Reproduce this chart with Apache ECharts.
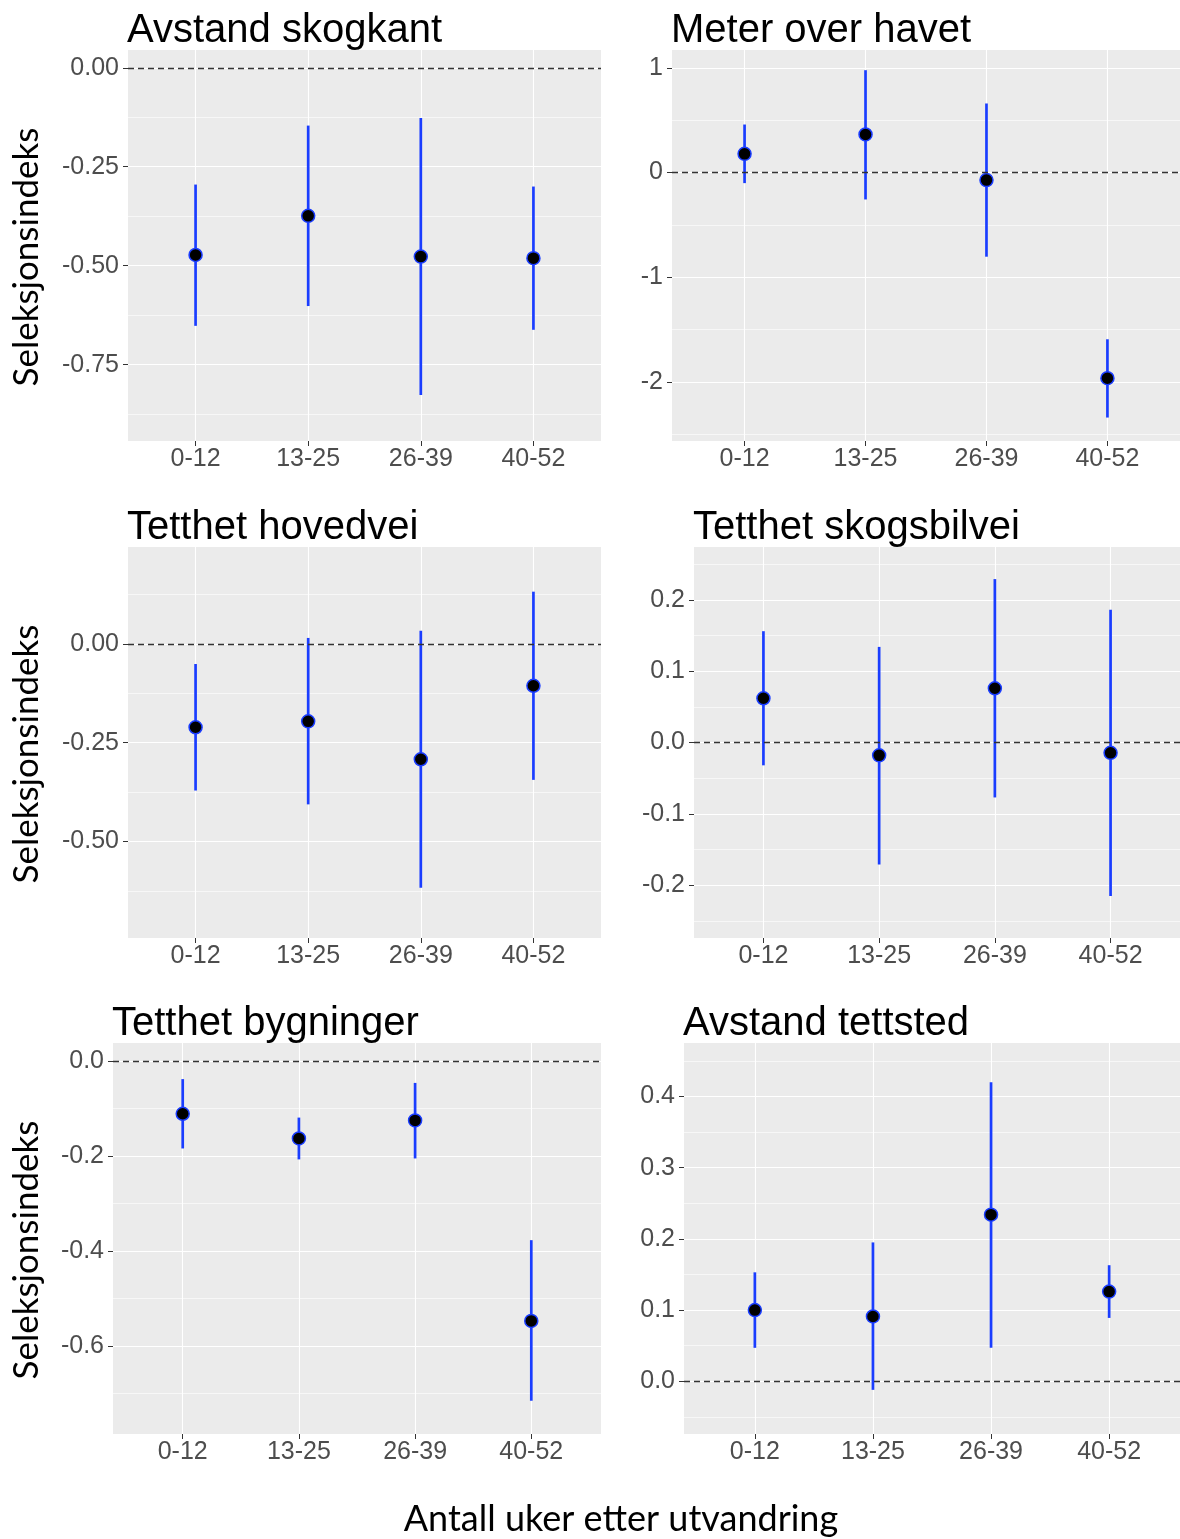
<!DOCTYPE html>
<html><head><meta charset="utf-8">
<script src="https://cdn.jsdelivr.net/npm/echarts@6/dist/echarts.min.js"></script>
<style>html,body{margin:0;padding:0;background:#fff}#c{width:1180px;height:1539px}</style>
</head><body><div id="c"></div>
<script>
// ---------- data ----------
const categories = ['0-12', '13-25', '26-39', '40-52'];

const skogkantEst = [-0.473, -0.374, -0.477, -0.481];
const skogkantLo  = [-0.652, -0.602, -0.827, -0.662];
const skogkantHi  = [-0.295, -0.146, -0.127, -0.300];
const skogkantTicks = [0, -0.25, -0.5, -0.75];
const skogkantTickLabels = ['0.00', '-0.25', '-0.50', '-0.75'];
const skogkantRange = [-0.943, 0.045];

const havetEst = [0.178, 0.363, -0.073, -1.966];
const havetLo  = [-0.102, -0.258, -0.805, -2.342];
const havetHi  = [0.458, 0.977, 0.659, -1.594];
const havetTicks = [1, 0, -1, -2];
const havetTickLabels = ['1', '0', '-1', '-2'];
const havetRange = [-2.566, 1.17];

const hovedveiEst = [-0.211, -0.196, -0.292, -0.106];
const hovedveiLo  = [-0.371, -0.406, -0.617, -0.344];
const hovedveiHi  = [-0.051, 0.015, 0.033, 0.132];
const hovedveiTicks = [0, -0.25, -0.5];
const hovedveiTickLabels = ['0.00', '-0.25', '-0.50'];
const hovedveiRange = [-0.744, 0.245];

const skogsbilveiEst = [0.062, -0.018, 0.076, -0.0145];
const skogsbilveiLo  = [-0.032, -0.171, -0.077, -0.215];
const skogsbilveiHi  = [0.156, 0.134, 0.229, 0.186];
const skogsbilveiTicks = [0.2, 0.1, 0, -0.1, -0.2];
const skogsbilveiTickLabels = ['0.2', '0.1', '0.0', '-0.1', '-0.2'];
const skogsbilveiRange = [-0.274, 0.274];

const bygningerEst = [-0.111, -0.163, -0.125, -0.547];
const bygningerLo  = [-0.184, -0.207, -0.205, -0.715];
const bygningerHi  = [-0.038, -0.119, -0.046, -0.377];
const bygningerTicks = [0, -0.2, -0.4, -0.6];
const bygningerTickLabels = ['0.0', '-0.2', '-0.4', '-0.6'];
const bygningerRange = [-0.785, 0.038];

const tettstedEst = [0.100, 0.091, 0.234, 0.126];
const tettstedLo  = [0.047, -0.012, 0.047, 0.089];
const tettstedHi  = [0.153, 0.195, 0.420, 0.163];
const tettstedTicks = [0.4, 0.3, 0.2, 0.1, 0];
const tettstedTickLabels = ['0.4', '0.3', '0.2', '0.1', '0.0'];
const tettstedRange = [-0.074, 0.475];

const titles = ['Avstand skogkant', 'Meter over havet', 'Tetthet hovedvei',
                'Tetthet skogsbilvei', 'Tetthet bygninger', 'Avstand tettsted'];
const yTitle = 'Seleksjonsindeks';
const xTitle = 'Antall uker etter utvandring';

const panels = [
  {est: skogkantEst, lo: skogkantLo, hi: skogkantHi, ticks: skogkantTicks, labels: skogkantTickLabels, range: skogkantRange},
  {est: havetEst, lo: havetLo, hi: havetHi, ticks: havetTicks, labels: havetTickLabels, range: havetRange},
  {est: hovedveiEst, lo: hovedveiLo, hi: hovedveiHi, ticks: hovedveiTicks, labels: hovedveiTickLabels, range: hovedveiRange},
  {est: skogsbilveiEst, lo: skogsbilveiLo, hi: skogsbilveiHi, ticks: skogsbilveiTicks, labels: skogsbilveiTickLabels, range: skogsbilveiRange},
  {est: bygningerEst, lo: bygningerLo, hi: bygningerHi, ticks: bygningerTicks, labels: bygningerTickLabels, range: bygningerRange},
  {est: tettstedEst, lo: tettstedLo, hi: tettstedHi, ticks: tettstedTicks, labels: tettstedTickLabels, range: tettstedRange}
];

// ---------- layout / style ----------
const layout = [
  {left: 128, top: 50,   width: 473, height: 391},
  {left: 672, top: 50,   width: 508, height: 391},
  {left: 128, top: 547,  width: 473, height: 391},
  {left: 694, top: 547,  width: 486, height: 391},
  {left: 113, top: 1043, width: 488, height: 391},
  {left: 684, top: 1043, width: 496, height: 391}
];
const BLUE = '#1a3dff';
const TICKFONT = 'Liberation Sans';
const TITLEFONT = 'Liberation Sans';
const LABELFONT = 'Lato';

function minorValues(ticks, range) {
  const step = Math.abs(ticks[1] - ticks[0]);
  const base = Math.min(...ticks);
  const out = [];
  for (let k = -30; k <= 60; k++) {
    const v = +(base + (k + 0.5) * step).toFixed(6);
    if (v > range[0] && v < range[1]) out.push(v);
  }
  return out;
}

const grid = [], xAxis = [], yAxis = [], series = [], title = [];
panels.forEach((p, i) => {
  const L = layout[i];
  grid.push({left: L.left, top: L.top, width: L.width, height: L.height,
    show: true, backgroundColor: '#EBEBEB', borderWidth: 0, containLabel: false});
  title.push({text: titles[i], left: L.left - 1, top: L.top - 39, padding: 0,
    textStyle: {fontFamily: TITLEFONT, fontSize: 40, fontWeight: 'normal', color: '#000'}});
  xAxis.push({type: 'value', gridIndex: i, min: -0.6, max: 3.6, position: 'bottom',
    axisLine: {show: false, onZero: false},
    axisTick: {show: true, length: 5, customValues: [0, 1, 2, 3], lineStyle: {color: '#333', width: 1}},
    axisLabel: {customValues: [0, 1, 2, 3], formatter: v => categories[Math.round(v)],
      fontFamily: TICKFONT, fontSize: 25, color: '#4D4D4D', margin: 6},
    splitLine: {show: true, lineStyle: {color: '#FFFFFF', width: 1.1}},
    minorSplitLine: {show: false}
  });
  const fmt = v => {
    const k = p.ticks.findIndex(t => Math.abs(t - v) < 1e-9);
    return k >= 0 ? p.labels[k] : '';
  };
  yAxis.push({type: 'value', gridIndex: i, min: p.range[0], max: p.range[1], position: 'left',
    axisLine: {show: false, onZero: false},
    axisTick: {show: true, length: 5, customValues: p.ticks, lineStyle: {color: '#333', width: 1}},
    axisLabel: {customValues: p.ticks, formatter: fmt, padding: [6, 0, 0, 0],
      fontFamily: TICKFONT, fontSize: 25, color: '#4D4D4D', margin: 9},
    splitLine: {show: true, lineStyle: {color: '#FFFFFF', width: 1.1}}
  });
  const minors = minorValues(p.ticks, p.range);
  yAxis.push({type: 'value', gridIndex: i, min: p.range[0], max: p.range[1], position: 'left',
    axisLine: {show: false, onZero: false},
    axisTick: {show: false, customValues: minors},
    axisLabel: {show: false, customValues: minors},
    splitLine: {show: true, lineStyle: {color: '#FAFAFA', width: 0.8}}
  });
  const yi = 2 * i;
  series.push({type: 'line', xAxisIndex: i, yAxisIndex: yi, data: [], z: 1, silent: true,
    markLine: {silent: true, symbol: ['none', 'none'], label: {show: false},
      lineStyle: {type: [6, 4], color: '#333', width: 1.4}, data: [{yAxis: 0}]}});
  series.push({type: 'custom', xAxisIndex: i, yAxisIndex: yi, z: 3, silent: true,
    data: categories.map((c, j) => [j, p.lo[j], p.hi[j]]),
    encode: {x: 0, y: [1, 2]},
    renderItem: (params, api) => {
      const x = api.value(0);
      const a = api.coord([x, api.value(1)]);
      const b = api.coord([x, api.value(2)]);
      return {type: 'line', shape: {x1: a[0], y1: a[1], x2: b[0], y2: b[1]},
        style: {stroke: BLUE, lineWidth: 2.7}};
    }});
  series.push({type: 'scatter', xAxisIndex: i, yAxisIndex: yi, z: 4, silent: true,
    symbol: 'circle', symbolSize: 13,
    itemStyle: {color: '#000', borderColor: BLUE, borderWidth: 1.5, opacity: 1},
    data: categories.map((c, j) => [j, p.est[j]])});
});

const graphic = [];
[257, 754, 1250].forEach(yc => {
  graphic.push({type: 'text', x: 27, y: yc, rotation: Math.PI / 2, silent: true,
    style: {text: yTitle, font: '35px ' + LABELFONT, fill: '#000', align: 'center', verticalAlign: 'middle'}});
});
graphic.push({type: 'text', x: 621, y: 1519, silent: true,
  style: {text: xTitle, font: '36px ' + LABELFONT, fill: '#000', align: 'center', verticalAlign: 'middle'}});

const chart = echarts.init(document.getElementById('c'), null, {renderer: 'canvas'});
chart.setOption({animation: false, backgroundColor: '#fff',
  title, grid, xAxis, yAxis, series, graphic});
</script></body></html>
